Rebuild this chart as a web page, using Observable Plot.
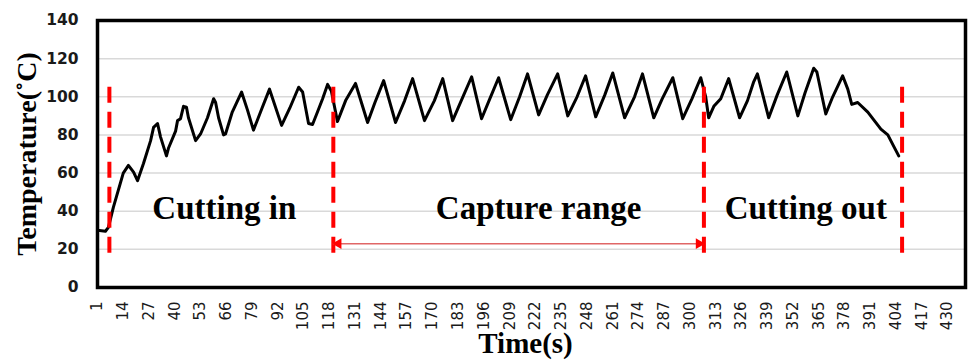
<!DOCTYPE html>
<html>
<head>
<meta charset="utf-8">
<script src="https://cdn.jsdelivr.net/npm/d3@7"></script>
<script src="https://cdn.jsdelivr.net/npm/@observablehq/plot@0.6"></script>
<style>
  html, body { margin: 0; padding: 0; background: #fff; }
  #chart { width: 970px; height: 362px; }
</style>
</head>
<body>
<div id="chart"></div>
<script>
// Time (s) and temperature (°C)
const time = [1, 5, 6.5, 9, 14, 16.6, 19.2, 21.2, 24.2, 27.8, 29.3, 31.3, 32.8, 35.8, 36.8, 40.4, 41.4, 42.9, 44.4, 45.9, 46.9, 50.5, 53, 56.5, 59.6, 60.6, 62.1, 64.6, 65.6, 69, 73.7, 76.7, 79.7, 84, 87.8, 93.9, 98, 102.5, 104.5, 107.5, 109.5, 112, 114.6, 117.1, 119, 122.1, 126.2, 131.2, 137.3, 141, 145.4, 151.4, 156, 160, 166, 171, 175.2, 180.2, 185, 189.8, 194.8, 199, 203.4, 209.5, 214, 218, 223.6, 228, 233.2, 238.3, 243, 247.3, 252.4, 257, 261, 267, 272, 276, 281.7, 286, 291.3, 296.3, 301, 305.4, 307.9, 309.4, 312, 315.5, 319.5, 325, 329, 332, 334, 339.7, 344, 348.8, 354.4, 358, 362.4, 364, 368.5, 372, 377, 379.6, 381.6, 384.6, 389.7, 396.3, 399.8, 402.8, 405.3];
const temp = [30, 29.5, 31.5, 42, 60, 64, 60.5, 56, 65, 77, 84, 86, 79, 69, 73, 82, 87.5, 88.5, 95, 94.5, 89, 77, 80.5, 89, 99, 97, 89, 80, 80.5, 92, 102.5, 93, 82.5, 94, 104, 85, 94, 105, 102.5, 86, 85.5, 92, 99, 106.5, 103, 87, 98, 107, 86.5, 97, 108.5, 86.5, 98, 109.5, 87.5, 98, 109.5, 87.5, 99, 110.5, 88.5, 99, 110, 88, 100, 112, 90.5, 101, 112, 90, 100, 111, 89.5, 101, 112.5, 89, 100, 112, 89, 99, 110, 88.5, 99, 110, 100, 89, 95, 99, 109.5, 89, 98, 107.5, 112, 89, 101, 113, 90, 102, 115, 113, 91, 100, 111, 104, 96, 97, 92, 83, 80, 74, 69];

const yTicks = [0, 20, 40, 60, 80, 100, 120, 140];
const xTicks = [1, 14, 27, 40, 53, 66, 79, 92, 105, 118, 131, 144, 157, 170, 183, 196, 209, 222, 235, 248, 261, 274, 287, 300, 313, 326, 339, 352, 365, 378, 391, 404, 417, 430];

const dividers = [7, 120, 307, 407];
const dividerBottom = 18;
const dividerTop = 109;

const captureRange = [120, 307];
const arrowLevel = 23;

const phaseLabels = ["Cutting in", "Capture range", "Cutting out"];
const phaseX = [65, 223.6, 358.4];
const phaseY = [41.4, 41.4, 41.4];

const xTitle = "Time(s)";
const yTitle = "Temperature(˚C)";

const series = time.map((t, i) => ({t, v: temp[i]}));
const phases = phaseLabels.map((label, i) => ({label, x: phaseX[i], y: phaseY[i]}));

const serif = "'Liberation Serif', 'Times New Roman', serif";
const sans = "'DejaVu Sans', sans-serif";

const chart = Plot.plot({
  width: 970,
  height: 362,
  marginLeft: 97,
  marginRight: 5,
  marginTop: 20,
  marginBottom: 75,
  x: {domain: [1, 439]},
  y: {domain: [0, 140]},
  style: {background: "#fff", overflow: "visible", fontFamily: sans, color: "#1a1a1a"},
  marks: [
    Plot.gridY(yTicks, {stroke: "#d9d9d9", strokeOpacity: 1, strokeWidth: 1.5}),
    Plot.axisY(yTicks, {tickSize: 0, tickPadding: 19, fontSize: 15.5, fontWeight: "bold", label: null}),
    Plot.axisX(xTicks, {tickSize: 0, tickPadding: 14, tickRotate: -90, fontSize: 15, label: null}),
    Plot.line(series, {x: "t", y: "v", stroke: "black", strokeWidth: 3, strokeLinejoin: "round", strokeLinecap: "round"}),
    Plot.ruleX(dividers, {x: d => d, y1: dividerBottom, y2: dividerTop, stroke: "#ff0000", strokeWidth: 4, strokeDasharray: "16,9"}),
    Plot.ruleY([arrowLevel], {x1: captureRange[0], x2: captureRange[1], y: d => d, stroke: "#e06666", strokeWidth: 1.5}),
    Plot.dot([captureRange[0]], {x: d => d, y: arrowLevel, symbol: "triangle", rotate: -90, r: 4, fill: "#ff0000", stroke: "none", dx: 5}),
    Plot.dot([captureRange[1]], {x: d => d, y: arrowLevel, symbol: "triangle", rotate: 90, r: 4, fill: "#ff0000", stroke: "none", dx: -5}),
    Plot.text(phases, {x: "x", y: "y", text: "label", fontSize: 33, fontWeight: "bold", fontFamily: serif, fill: "black"}),
    Plot.text([yTitle], {text: d => d, frameAnchor: "left", textAnchor: "middle", dx: -70, rotate: -90, fontSize: 28, fontWeight: "bold", fontFamily: serif, fill: "black"}),
    Plot.text([xTitle], {text: d => d, frameAnchor: "bottom", dy: 65, dx: -6, fontSize: 29, fontWeight: "bold", fontFamily: serif, fill: "black"}),
    Plot.frame({stroke: "black", strokeWidth: 3.5})
  ]
});
document.getElementById("chart").appendChild(chart);
</script>
</body>
</html>
